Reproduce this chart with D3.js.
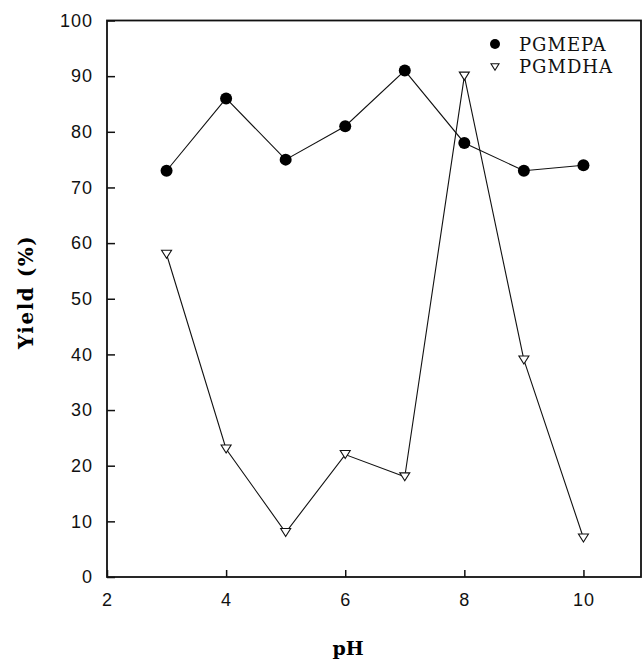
<!DOCTYPE html>
<html>
<head>
<meta charset="utf-8">
<script src="https://cdn.jsdelivr.net/npm/d3@7"></script>
<style>
  body { margin: 0; background: #fff; }
  svg { display: block; }
  .tick text { font-family: "Liberation Sans", Arial, sans-serif; font-size: 18px; fill: #111; }
</style>
</head>
<body>
<script>
var ph = [3, 4, 5, 6, 7, 8, 9, 10]
var pgmepa = [73, 86, 75, 81, 91, 78, 73, 74]
var pgmdha = [58, 23, 8, 22, 18, 90, 39, 7]
var xTicks = [2, 4, 6, 8, 10]
var yTicks = [0, 10, 20, 30, 40, 50, 60, 70, 80, 90, 100]
var seriesNames = ["PGMEPA", "PGMDHA"]

var width = 643, height = 659
var plotLeft = 107, plotRight = 641, plotTop = 20.5, plotBottom = 577

var svg = d3.select("body").append("svg")
    .attr("width", width).attr("height", height)

var x = d3.scaleLinear().domain([2, 11]).range([plotLeft, 643])
var y = d3.scaleLinear().domain([0, 100]).range([plotBottom, plotTop])

// frame
svg.append("rect")
    .attr("x", plotLeft).attr("y", plotTop)
    .attr("width", plotRight - plotLeft).attr("height", plotBottom - plotTop)
    .attr("fill", "none").attr("stroke", "#111").attr("stroke-width", 1.8)

var xAxis = svg.append("g")
    .attr("transform", "translate(0," + plotBottom + ")")
    .call(d3.axisBottom(x).tickValues(xTicks).tickSize(-7).tickPadding(16).tickFormat(d3.format("d")))
xAxis.select(".domain").remove()
xAxis.selectAll("line").attr("stroke", "#111").attr("stroke-width", 1.5)
xAxis.selectAll("text").attr("letter-spacing", 1)

var yAxis = svg.append("g")
    .attr("transform", "translate(" + plotLeft + ",0)")
    .call(d3.axisLeft(y).tickValues(yTicks).tickSize(-8).tickPadding(14))
yAxis.select(".domain").remove()
yAxis.selectAll("line").attr("stroke", "#111").attr("stroke-width", 1.5)
yAxis.selectAll("text").attr("letter-spacing", 1)

// axis titles
svg.append("text")
    .attr("x", 348).attr("y", 655)
    .attr("text-anchor", "middle")
    .style("font-family", "'DejaVu Serif', serif")
    .style("font-weight", "bold")
    .style("font-size", "19px")
    .text("pH")

svg.append("text")
    .attr("transform", "translate(33,292) rotate(-90)")
    .attr("text-anchor", "middle")
    .attr("letter-spacing", 1.5)
    .style("font-family", "'DejaVu Serif', serif")
    .style("font-weight", "bold")
    .style("font-size", "20px")
    .text("Yield (%)")

var line = d3.line()
    .x(function(d, i) { return x(ph[i]); })
    .y(function(d) { return y(d); })

var g = svg.append("g")

g.append("path").datum(pgmepa).attr("d", line)
    .attr("fill", "none").attr("stroke", "#111").attr("stroke-width", 1.1)
g.append("path").datum(pgmdha).attr("d", line)
    .attr("fill", "none").attr("stroke", "#111").attr("stroke-width", 1.1)

function triangle(s) {
  return "M" + (-s) + "," + (-0.8 * s) + "L" + s + "," + (-0.8 * s) + "L0," + (0.8 * s) + "Z"
}

g.selectAll(".dha").data(pgmdha).enter().append("path")
    .attr("class", "dha")
    .attr("transform", function(d, i) { return "translate(" + x(ph[i]) + "," + y(d) + ")"; })
    .attr("d", triangle(5))
    .attr("fill", "#fff").attr("stroke", "#111").attr("stroke-width", 1.1)

g.selectAll(".epa").data(pgmepa).enter().append("circle")
    .attr("class", "epa")
    .attr("cx", function(d, i) { return x(ph[i]); })
    .attr("cy", function(d) { return y(d); })
    .attr("r", 6)
    .attr("fill", "#000")

// legend
var legend = svg.append("g")
legend.append("circle").attr("cx", 495).attr("cy", 44).attr("r", 5).attr("fill", "#000")
legend.append("path").attr("transform", "translate(495,67)").attr("d", triangle(4))
    .attr("fill", "#fff").attr("stroke", "#111").attr("stroke-width", 1.1)
legend.selectAll("text").data(seriesNames).enter().append("text")
    .attr("x", 519)
    .attr("y", function(d, i) { return 51 + i * 22; })
    .attr("letter-spacing", 1)
    .style("font-family", "'DejaVu Serif', serif")
    .style("font-size", "18px")
    .style("fill", "#111")
    .text(function(d) { return d; })
</script>
</body>
</html>
